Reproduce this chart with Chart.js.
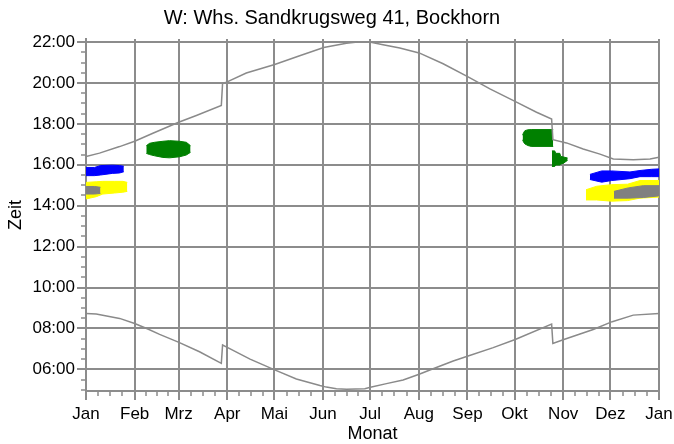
<!DOCTYPE html>
<html>
<head>
<meta charset="utf-8">
<script src="https://cdn.jsdelivr.net/npm/chart.js@4.4.1/dist/chart.umd.min.js"></script>
<style>
  body { margin: 0; background: #fff; }
  #wrap { width: 674px; height: 444px; }
</style>
</head>
<body>
<div id="wrap"><canvas id="chart" width="674" height="444"></canvas></div>
<script>
// x axis: day of year, y axis: hour of day
const monthLabels = ['Jan', 'Feb', 'Mrz', 'Apr', 'Mai', 'Jun', 'Jul', 'Aug', 'Sep', 'Okt', 'Nov', 'Dez', 'Jan'];
const monthStarts = [0, 31, 59, 90, 120, 151, 181, 212, 243, 273, 304, 334, 365];
const hourTicks = [6, 8, 10, 12, 14, 16, 18, 20, 22];

// sunset / sunrise (local time, with DST jumps)
const sunsetDays = [0, 8.6, 21.4, 31, 42.6, 59, 70.3, 86.2, 87, 88.9, 102.1, 120.2, 136.1, 151.4, 165.9, 173, 180.7, 189.2, 199.9, 212.2, 227.5, 243.4, 257.3, 273.6, 287, 296.6, 297.4, 306.1, 316.7, 327.4, 335.9, 348.6, 359.3, 365];
const sunsetHours = [16.40, 16.57, 16.89, 17.15, 17.54, 18.08, 18.41, 18.90, 19.98, 20.02, 20.49, 20.90, 21.33, 21.73, 21.94, 22.0, 22.0, 21.87, 21.71, 21.47, 20.94, 20.30, 19.71, 19.09, 18.57, 18.24, 17.23, 17.07, 16.77, 16.52, 16.28, 16.25, 16.28, 16.37];

const sunriseDays = [0, 6.5, 21.4, 31, 39.4, 46.9, 59.2, 72.3, 86.2, 87, 90, 104.5, 120.2, 134, 149, 153.1, 159.5, 166, 177.6, 181.2, 191.4, 202, 212.2, 221.1, 233.9, 243.4, 259.4, 273.4, 296.6, 297.4, 304.4, 323.1, 335.2, 348.6, 365];
const sunriseHours = [8.73, 8.70, 8.49, 8.24, 7.97, 7.71, 7.32, 6.86, 6.29, 7.19, 7.07, 6.50, 5.97, 5.53, 5.21, 5.13, 5.05, 5.03, 5.05, 5.12, 5.30, 5.48, 5.76, 6.03, 6.41, 6.65, 7.06, 7.46, 8.21, 7.27, 7.46, 7.95, 8.33, 8.65, 8.73];

// shadow periods per receptor: day, upper and lower time
const blueJanDays = [0, 5.4, 9.2, 16.9, 21.4, 24.1];
const blueJanTop = [15.87, 15.87, 15.96, 15.98, 15.96, 15.93];
const blueJanBottom = [15.47, 15.47, 15.50, 15.58, 15.60, 15.66];

const blueDecDays = [321, 328.5, 334.8, 346.5, 352.9, 360.3, 365];
const blueDecTop = [15.53, 15.70, 15.70, 15.65, 15.72, 15.78, 15.80];
const blueDecBottom = [15.28, 15.15, 15.23, 15.32, 15.42, 15.42, 15.42];

const grayJanDays = [0, 5.4, 9.2];
const grayJanTop = [14.94, 14.94, 14.90];
const grayJanBottom = [14.57, 14.57, 14.60];

const grayDecDays = [336.3, 345.4, 355, 365];
const grayDecTop = [14.70, 14.87, 14.98, 14.98];
const grayDecBottom = [14.37, 14.37, 14.40, 14.48];

const yellowJanDays = [0, 6.5, 10.7, 18.2, 23.5, 26.3];
const yellowJanTop = [15.14, 15.17, 15.19, 15.19, 15.19, 15.14];
const yellowJanBottom = [14.33, 14.44, 14.57, 14.62, 14.66, 14.70];

const yellowDecDays = [318.5, 325.3, 334.8, 345, 352.9, 365];
const yellowDecTop = [14.78, 14.95, 15.03, 15.05, 15.23, 15.23];
const yellowDecBottom = [14.28, 14.28, 14.22, 14.25, 14.37, 14.42];

const greenMarDays = [38.4, 40.5, 43.7, 49.0, 53.2, 59.6, 63.9, 66.6];
const greenMarTop = [16.93, 17.05, 17.10, 17.15, 17.18, 17.15, 17.10, 16.93];
const greenMarBottom = [16.56, 16.50, 16.44, 16.36, 16.34, 16.39, 16.48, 16.61];

const greenOctDays = [278.1, 278.8, 279.6, 281.5, 283.6, 297.6];
const greenOctTop = [17.45, 17.58, 17.67, 17.71, 17.72, 17.72];
const greenOctBottom = [17.22, 17.10, 17.02, 16.94, 16.90, 16.90];

const greenNovDays = [296.8, 298.6, 299.2, 301.8, 302.4, 304.2, 306.8];
const greenNovTop = [16.68, 16.68, 16.56, 16.56, 16.41, 16.38, 16.33];
const greenNovBottom = [15.92, 15.92, 15.99, 15.99, 16.03, 16.08, 16.22];

const GRID = '#8c8c8c';
const FONT = "'Liberation Sans', Arial, Helvetica, sans-serif";

const toPoints = (xs, ys) => xs.map((x, i) => ({ x: x, y: ys[i] }));

function curve(days, hours) {
  return {
    data: toPoints(days, hours),
    borderColor: '#8a8a8a',
    borderWidth: 1.5,
    pointRadius: 0,
    fill: false
  };
}

// two lines, the lower one filled up to the upper one
function band(days, top, bottom, color) {
  const common = { borderColor: color, backgroundColor: color, borderWidth: 1, pointRadius: 0 };
  return [
    Object.assign({ data: toPoints(days, top), fill: false }, common),
    Object.assign({ data: toPoints(days, bottom), fill: '-1' }, common)
  ];
}

// half-hour ticks on y, quarter-month ticks on x
const minorTicks = {
  id: 'minorTicks',
  afterDraw(chart) {
    const { ctx } = chart;
    const x = chart.scales.x;
    const y = chart.scales.y;
    ctx.save();
    ctx.strokeStyle = GRID;
    ctx.lineWidth = 1.5;
    ctx.beginPath();
    for (let i = 0; i < monthStarts.length - 1; i++) {
      const len = monthStarts[i + 1] - monthStarts[i];
      for (let k = 1; k < 4; k++) {
        const px = Math.round(x.getPixelForValue(monthStarts[i] + len * k / 4));
        ctx.moveTo(px, x.top);
        ctx.lineTo(px, x.top + 5);
      }
    }
    for (let h = 5; h < 22; h += 0.5) {
      if (h % 2 === 0) continue;
      const py = Math.round(y.getPixelForValue(h));
      ctx.moveTo(y.right - 5, py);
      ctx.lineTo(y.right, py);
    }
    ctx.stroke();
    ctx.restore();
  }
};

const datasets = [
  curve(sunsetDays, sunsetHours),
  curve(sunriseDays, sunriseHours),
  ...band(blueJanDays, blueJanTop, blueJanBottom, '#0000ff'),
  ...band(blueDecDays, blueDecTop, blueDecBottom, '#0000ff'),
  ...band(grayJanDays, grayJanTop, grayJanBottom, '#808080'),
  ...band(grayDecDays, grayDecTop, grayDecBottom, '#808080'),
  ...band(yellowJanDays, yellowJanTop, yellowJanBottom, '#ffff00'),
  ...band(yellowDecDays, yellowDecTop, yellowDecBottom, '#ffff00'),
  ...band(greenMarDays, greenMarTop, greenMarBottom, '#008000'),
  ...band(greenOctDays, greenOctTop, greenOctBottom, '#008000'),
  ...band(greenNovDays, greenNovTop, greenNovBottom, '#008000')
];

const tickFont = { family: FONT, size: 17 };
const titleFont = { family: FONT, size: 18, lineHeight: 1.1 };

new Chart(document.getElementById('chart'), {
  type: 'line',
  data: { datasets: datasets },
  options: {
    responsive: false,
    animation: false,
    devicePixelRatio: 1,
    layout: { padding: { left: 5, right: 15, top: 0, bottom: 0 } },
    plugins: {
      legend: { display: false },
      tooltip: { enabled: false },
      title: {
        display: true,
        text: 'W: Whs. Sandkrugsweg 41, Bockhorn',
        color: '#000',
        font: { family: FONT, size: 20, weight: 'normal' },
        padding: { top: 6, bottom: 9 }
      }
    },
    scales: {
      x: {
        type: 'linear',
        min: 0,
        max: 365,
        afterBuildTicks: s => { s.ticks = monthStarts.map(v => ({ value: v })); },
        afterFit: s => { s.height = 53; s.paddingLeft = 0; s.paddingRight = 0; },
        ticks: {
          callback: (v, i) => monthLabels[i],
          color: '#000',
          font: tickFont,
          padding: 4,
          maxRotation: 0,
          autoSkip: false
        },
        grid: { color: GRID, lineWidth: 2, tickLength: 9, tickColor: GRID, tickWidth: 2 },
        border: { display: true, color: GRID, width: 2 },
        title: { display: true, text: 'Monat', color: '#000', font: titleFont, padding: { top: 0, bottom: 0 } }
      },
      y: {
        type: 'linear',
        min: 4.94,
        max: 22.15,
        afterBuildTicks: s => { s.ticks = hourTicks.map(v => ({ value: v })); },
        afterFit: s => { s.width = 81; s.paddingTop = 0; s.paddingBottom = 0; },
        ticks: {
          callback: v => String(v).padStart(2, '0') + ':00',
          color: '#000',
          font: tickFont,
          padding: 2
        },
        grid: { color: GRID, lineWidth: 2, tickLength: 9, tickColor: GRID, tickWidth: 2 },
        border: { display: true, color: GRID, width: 2 },
        title: { display: true, text: 'Zeit', color: '#000', font: titleFont, padding: { top: 1, bottom: 0 } }
      }
    }
  },
  plugins: [minorTicks]
});
</script>
</body>
</html>
